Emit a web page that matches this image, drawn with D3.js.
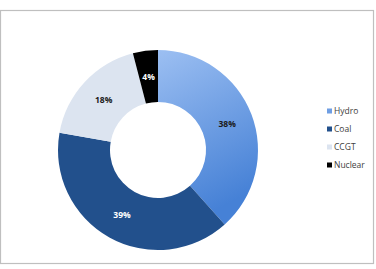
<!DOCTYPE html>
<html>
<head>
<meta charset="utf-8">
<script src="https://cdn.jsdelivr.net/npm/d3@7"></script>
<style>
  body { margin: 0; background: #fff; }
  svg { display: block; font-family: "Open Sans", "Liberation Sans", sans-serif; }
</style>
</head>
<body>
<div id="chart"></div>
<script>
// Chart data
const sources = ["Hydro", "Coal", "CCGT", "Nuclear"];
const shares = [38, 39, 18, 4];
const colors = ["#6f9ee3", "#22508c", "#dce4f0", "#000000"];
const labelColors = ["#1a1a1a", "#ffffff", "#1a1a1a", "#ffffff"];

const width = 376, height = 269;
const cx = 158, cy = 150;
const outerR = 100, innerR = 48;

const svg = d3.select("#chart")
    .append("svg")
    .attr("width", width)
    .attr("height", height);

// Gradient for the hydro slice
const defs = svg.append("defs");
const grad = defs.append("linearGradient")
    .attr("id", "hydroGrad")
    .attr("x1", 0).attr("y1", 0).attr("x2", 0.3).attr("y2", 1);
grad.append("stop").attr("offset", "0%").attr("stop-color", "#9cbff2");
grad.append("stop").attr("offset", "100%").attr("stop-color", "#4681d6");

// Chart frame
svg.append("rect")
    .attr("x", 0.5).attr("y", 10.5)
    .attr("width", 373).attr("height", 253)
    .attr("fill", "#fff")
    .attr("stroke", "#bfbfbf")
    .attr("stroke-width", 1.2);

const pie = d3.pie().sort(null).value(d => d.value);
const arcs = pie(sources.map((s, i) => ({ name: s, value: shares[i], i })));

const arc = d3.arc().innerRadius(innerR).outerRadius(outerR);
const labelArc = d3.arc().innerRadius(74).outerRadius(74);

const g = svg.append("g")
    .attr("transform", `translate(${cx},${cy})`);

g.selectAll("path")
    .data(arcs)
    .enter()
    .append("path")
    .attr("d", arc)
    .attr("fill", d => d.data.i === 0 ? "url(#hydroGrad)" : colors[d.data.i]);

g.selectAll("text")
    .data(arcs)
    .enter()
    .append("text")
    .attr("transform", d => `translate(${labelArc.centroid(d)})`)
    .attr("text-anchor", "middle")
    .attr("dy", "0.35em")
    .style("font-size", "8.5px")
    .style("font-weight", "bold")
    .attr("fill", d => labelColors[d.data.i])
    .text(d => d.data.value + "%");

// Legend
const legend = svg.selectAll(".legend")
    .data(sources)
    .enter()
    .append("g")
    .attr("class", "legend")
    .attr("transform", (d, i) => `translate(327, ${111 + i * 18})`);

legend.append("rect")
    .attr("x", 0)
    .attr("y", -2.5)
    .attr("width", 5)
    .attr("height", 5)
    .attr("fill", (d, i) => colors[i]);

legend.append("text")
    .attr("x", 7)
    .attr("y", 0)
    .attr("dy", "0.35em")
    .style("font-size", "8.5px")
    .attr("fill", "#404040")
    .text(d => d);
</script>
</body>
</html>
